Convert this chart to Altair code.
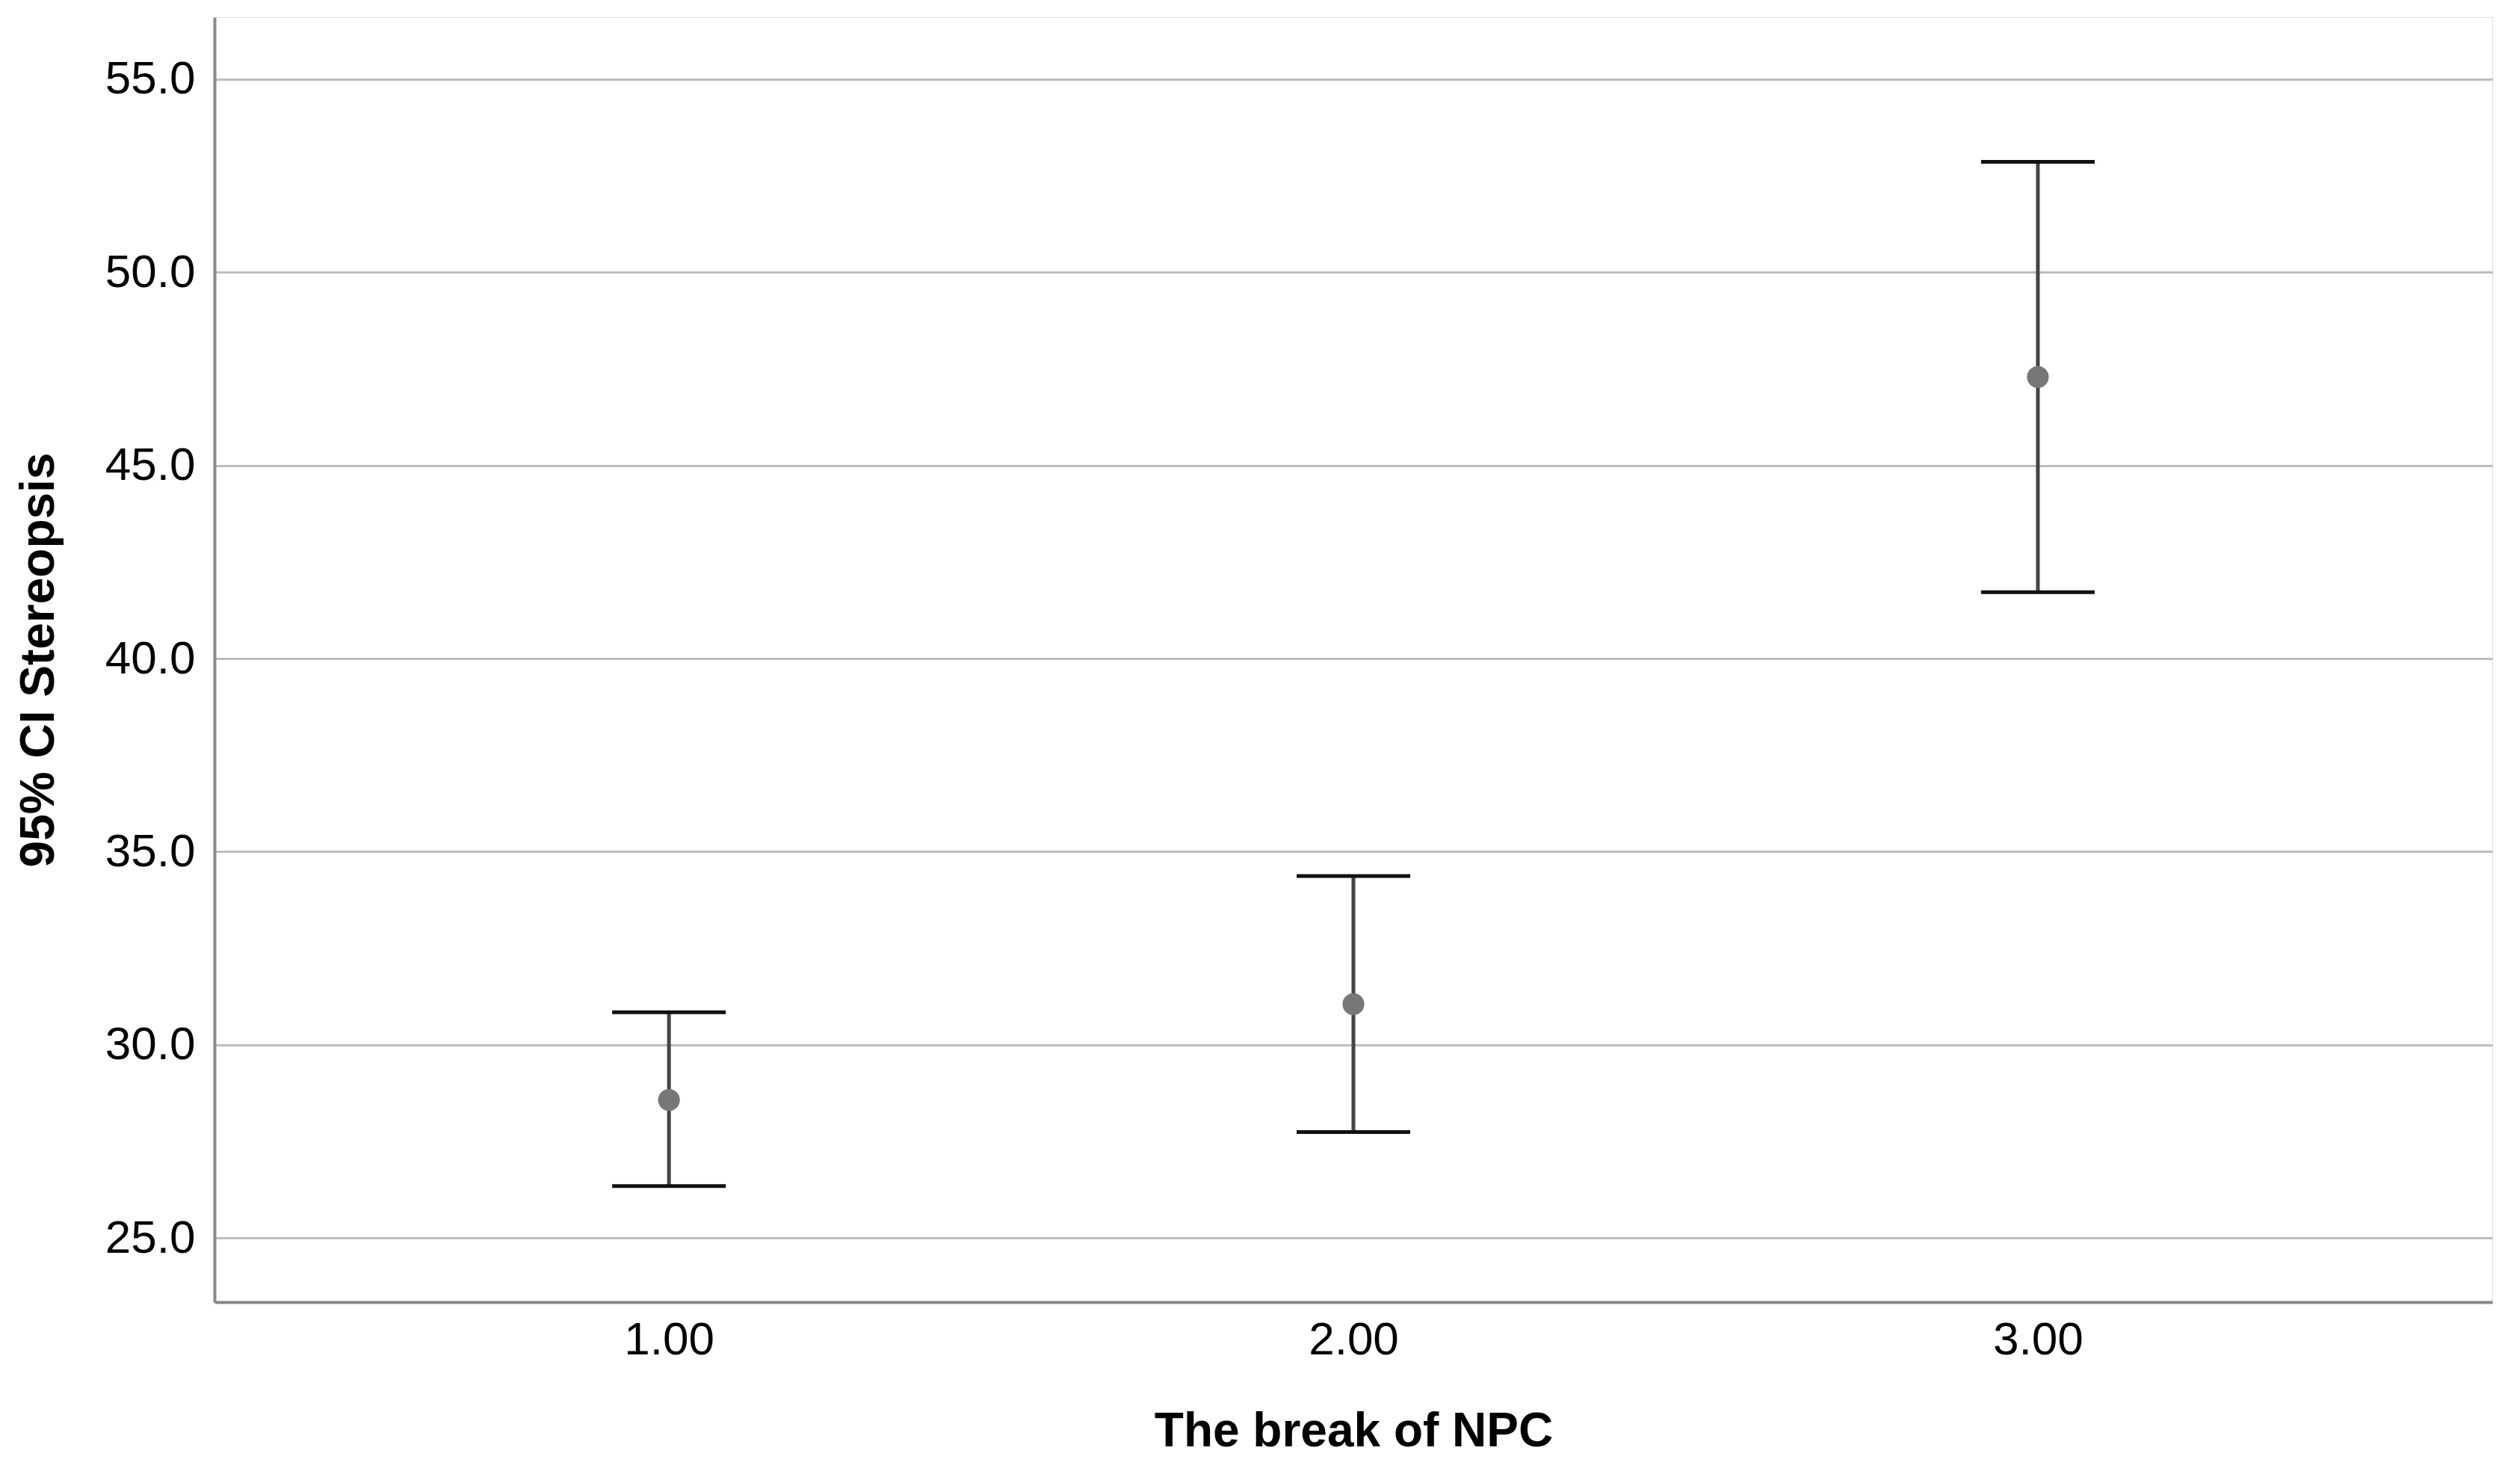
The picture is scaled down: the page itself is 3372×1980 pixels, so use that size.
import altair as alt
import pandas as pd

groups = [1.0, 2.0, 3.0]
means = [28.57, 31.05, 47.29]
lower = [26.34, 27.74, 41.72]
upper = [30.84, 34.37, 52.86]

y_ticks = [25, 30, 35, 40, 45, 50, 55]
x_ticks = [1, 2, 3]

df = pd.DataFrame({"npc": groups, "mean": means, "lo": lower, "hi": upper})

FONT = "Liberation Sans"

x_scale = alt.Scale(domain=[0.336, 3.664], nice=False, zero=False)
y_scale = alt.Scale(domain=[23.336, 56.606], nice=False, zero=False)

x_axis = alt.Axis(
    title="The break of NPC", values=x_ticks, format=".2f", grid=False, ticks=False,
    labelFontSize=62, labelFont=FONT, labelColor="#000", labelPadding=20,
    titleFontSize=64, titleFont=FONT, titleFontWeight="bold", titleColor="#000",
    titlePadding=60, domainColor="#888", domainWidth=4,
)
y_axis = alt.Axis(
    title="95% CI Stereopsis", values=y_ticks, format=".1f", grid=True, ticks=False,
    gridColor="#bdbdbd", gridWidth=3,
    labelFontSize=62, labelFont=FONT, labelColor="#000", labelPadding=26,
    titleFontSize=64, titleFont=FONT, titleFontWeight="bold", titleColor="#000",
    titlePadding=56, domainColor="#888", domainWidth=4,
)

base = alt.Chart(df)

whisker = base.mark_rule(color="#444", strokeWidth=5).encode(
    x=alt.X("npc:Q", scale=x_scale, axis=x_axis),
    y=alt.Y("lo:Q", scale=y_scale, axis=y_axis),
    y2="hi:Q",
)
cap_hi = base.mark_tick(orient="horizontal", size=152, thickness=5, color="#111", opacity=1).encode(
    x=alt.X("npc:Q", scale=x_scale),
    y=alt.Y("hi:Q", scale=y_scale),
)
cap_lo = base.mark_tick(orient="horizontal", size=152, thickness=5, color="#111", opacity=1).encode(
    x=alt.X("npc:Q", scale=x_scale),
    y=alt.Y("lo:Q", scale=y_scale),
)
dots = base.mark_circle(size=850, color="#777", opacity=1).encode(
    x=alt.X("npc:Q", scale=x_scale),
    y=alt.Y("mean:Q", scale=y_scale),
)

chart = alt.layer(whisker, cap_hi, cap_lo, dots).properties(
    width=3048, height=1719,
    autosize=alt.AutoSizeParams(type="none"),
    padding={"left": 279, "top": 15, "right": 29, "bottom": 230},
).configure_view(stroke="transparent", strokeWidth=0).configure(background="white")

chart.save("out.html", embed_options={"renderer": "svg", "actions": False})
